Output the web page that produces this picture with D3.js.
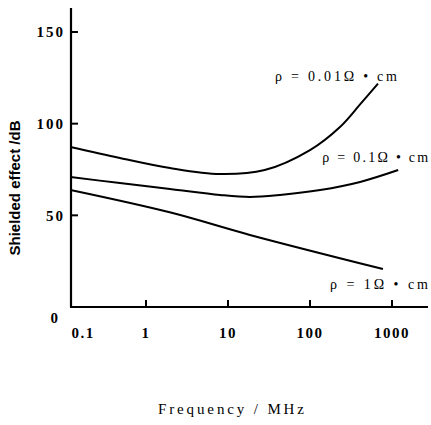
<!DOCTYPE html>
<html>
<head>
<meta charset="utf-8">
<script src="https://cdn.jsdelivr.net/npm/d3@7"></script>
<style>
  body { margin: 0; background: #fff; }
  svg { display: block; }
  text.serif { font-family: "Liberation Serif", "Tinos", "Times New Roman", "Nimbus Roman", "DejaVu Serif", "Noto Serif", serif; }
  .tick-label { font-weight: bold; font-size: 15px; }
  .curve-label { font-size: 14px; }
</style>
</head>
<body>
<svg id="chart" width="431" height="425"></svg>
<script>
// values
const freqA = [0.12, 0.48, 1.96, 8, 28, 100, 232, 408, 675];
const rhoA  = [87.3, 81.3, 75.8, 72.5, 74.7, 85.6, 98.2, 110.5, 121.8];
const freqB = [0.12, 0.48, 1.96, 8, 18.5, 43, 133, 408, 1190];
const rhoB  = [70.9, 67.6, 64.4, 61.1, 60.0, 61.1, 63.8, 68.2, 74.7];
const freqC = [0.12, 2, 18.5, 776];
const rhoC  = [63.8, 51.5, 39.3, 20.7];
const seriesNames = ['ρ = 0.01Ω • cm', 'ρ = 0.1Ω • cm', 'ρ = 1Ω • cm'];
const xTicks = [0.1, 1, 10, 100, 1000];
const yTicks = [0, 50, 100, 150];

const svg = d3.select('#chart');
const x = d3.scaleLog().domain([0.1, 1000]).range([64, 392]);
const y = d3.scaleLinear().domain([0, 150]).range([307, 32]);
const axisLeft = 71, axisRight = 428, axisTop = 8;

const series = [
  { name: seriesNames[0], f: freqA, v: rhoA, dx: 19, dy: -3, len: 122 },
  { name: seriesNames[1], f: freqB, v: rhoB, dx: 30, dy: -8, len: 106 },
  { name: seriesNames[2], f: freqC, v: rhoC, dx: 45, dy: 20, len: 98 }
];

// axes lines
svg.append('line').attr('x1', axisLeft).attr('x2', axisLeft).attr('y1', axisTop).attr('y2', y(0))
  .attr('stroke', '#000').attr('stroke-width', 2.2);
svg.append('line').attr('x1', axisLeft - 1).attr('x2', axisRight).attr('y1', y(0)).attr('y2', y(0))
  .attr('stroke', '#000').attr('stroke-width', 2.2);

// y ticks
svg.selectAll('.ytick').data(yTicks.filter(d => d > 0)).enter().append('line')
  .attr('x1', axisLeft).attr('x2', axisLeft + 7)
  .attr('y1', d => y(d)).attr('y2', d => y(d))
  .attr('stroke', '#000').attr('stroke-width', 2);
svg.selectAll('.ylab').data(yTicks).enter().append('text')
  .attr('class', 'serif tick-label')
  .attr('x', d => d === 0 ? 60 : 65)
  .attr('y', d => d === 0 ? y(d) + 11 : y(d))
  .attr('dy', '0.35em')
  .attr('text-anchor', 'end')
  .attr('letter-spacing', 2)
  .text(d => d);

// x ticks
svg.selectAll('.xtick').data(xTicks.filter(d => x(d) > axisLeft)).enter().append('line')
  .attr('x1', d => x(d)).attr('x2', d => x(d))
  .attr('y1', y(0)).attr('y2', y(0) - 7)
  .attr('stroke', '#000').attr('stroke-width', 2);
svg.selectAll('.xlab').data(xTicks).enter().append('text')
  .attr('class', 'serif tick-label')
  .attr('x', d => x(d) < axisLeft ? x(d) + 19 : x(d))
  .attr('y', 333)
  .attr('dy', '0.35em')
  .attr('text-anchor', 'middle')
  .attr('letter-spacing', 1.5)
  .text(d => d);

// curves
const line = d3.line()
  .x(d => x(d[0])).y(d => y(d[1]))
  .curve(d3.curveCatmullRom.alpha(0.5));

series.forEach(s => {
  const pts = s.f.map((f, i) => [f, s.v[i]]);
  svg.append('path').datum(pts)
    .attr('d', line)
    .attr('fill', 'none')
    .attr('stroke', '#000')
    .attr('stroke-width', 2);
  const end = pts[pts.length - 1];
  svg.append('text')
    .attr('class', 'serif curve-label')
    .attr('x', x(end[0]) + s.dx)
    .attr('y', y(end[1]) + s.dy)
    .attr('text-anchor', 'end')
    .attr('textLength', s.len)
    .attr('lengthAdjust', 'spacing')
    .text(s.name);
});

// axis titles
svg.append('text')
  .attr('transform', 'translate(20,188) rotate(-90)')
  .attr('text-anchor', 'middle')
  .style('font-family', '"Liberation Sans", Arial, sans-serif')
  .style('font-weight', 'bold')
  .style('font-size', '15px')
  .text('Shielded effect /dB');

svg.append('text')
  .attr('class', 'serif')
  .attr('x', 231).attr('y', 414)
  .attr('text-anchor', 'middle')
  .attr('textLength', 146)
  .attr('lengthAdjust', 'spacing')
  .style('font-size', '15px')
  .text('Frequency / MHz');
</script>
</body>
</html>
